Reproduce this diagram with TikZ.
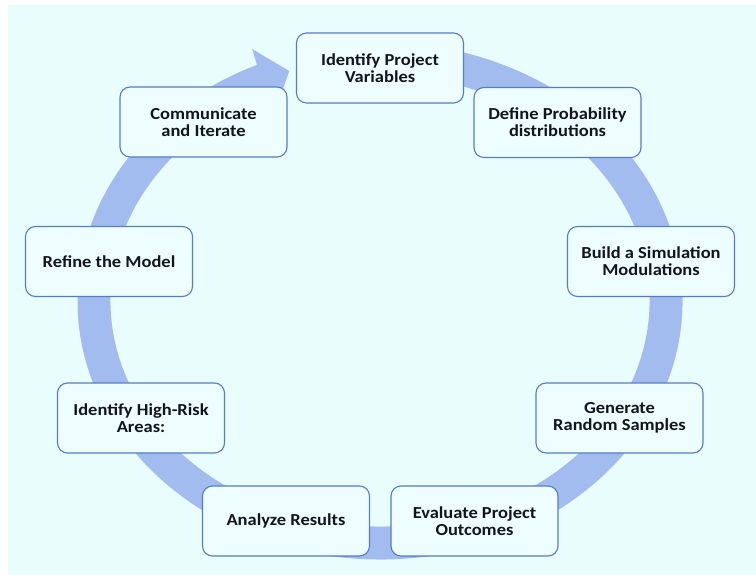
\documentclass[tikz,border=0pt]{standalone}
\usepackage{fontspec}
\setmainfont{Carlito}
\newfontfamily\boxfont[FakeStretch=1.1]{Carlito}
\definecolor{bgcol}{RGB}{234,253,253}
\definecolor{boxfill}{RGB}{238,254,254}
\definecolor{boxline}{RGB}{86,124,196}
\definecolor{ringcol}{RGB}{162,188,240}
\definecolor{txtcol}{RGB}{20,20,30}
\tikzset{
  stepbox/.style={draw=boxline, fill=boxfill, line width=1.1bp, rounded corners=10bp,
    minimum width=167bp, minimum height=70bp, align=center, text=txtcol,
    font=\boxfont\bfseries\fontsize{16.8bp}{16.8bp}\selectfont, inner sep=2bp},
}
\begin{document}
\begin{tikzpicture}[x=1bp,y=1bp]
\useasboundingbox (0,0) rectangle (756,575);
\fill[bgcol] (8,0) rectangle (756,570);
% circular arrow
\fill[ringcol] (406.4,531.5) arc[start angle=85, end angle=-246, x radius=302.5bp, y radius=258.5bp]
  -- (252.1,526.0) -- (289.3,504.0) -- (275.3,464.2) -- (270.4,480.0)
  arc[start angle=-246, end angle=85, x radius=269.5bp, y radius=225.5bp] -- cycle;
% boxes
\node[stepbox] (n1) at (380,507) {Identify Project\\Variables};
\node[stepbox] (n2) at (557.5,452.5) {Define Probability\\distributions};
\node[stepbox] (n3) at (651,313.5) {Build a Simulation\\Modulations};
\node[stepbox] (n4) at (619.5,157) {Generate\\Random Samples};
\node[stepbox] (n5) at (474.5,54) {Evaluate Project\\Outcomes};
\node[stepbox] (n6) at (286,54) {Analyze Results};
\node[stepbox] (n7) at (141,157) {Identify High-Risk\\Areas:};
\node[stepbox] (n8) at (109,313.5) {Refine the Model};
\node[stepbox] (n9) at (203.5,453) {Communicate\\and Iterate};
\end{tikzpicture}
\end{document}
